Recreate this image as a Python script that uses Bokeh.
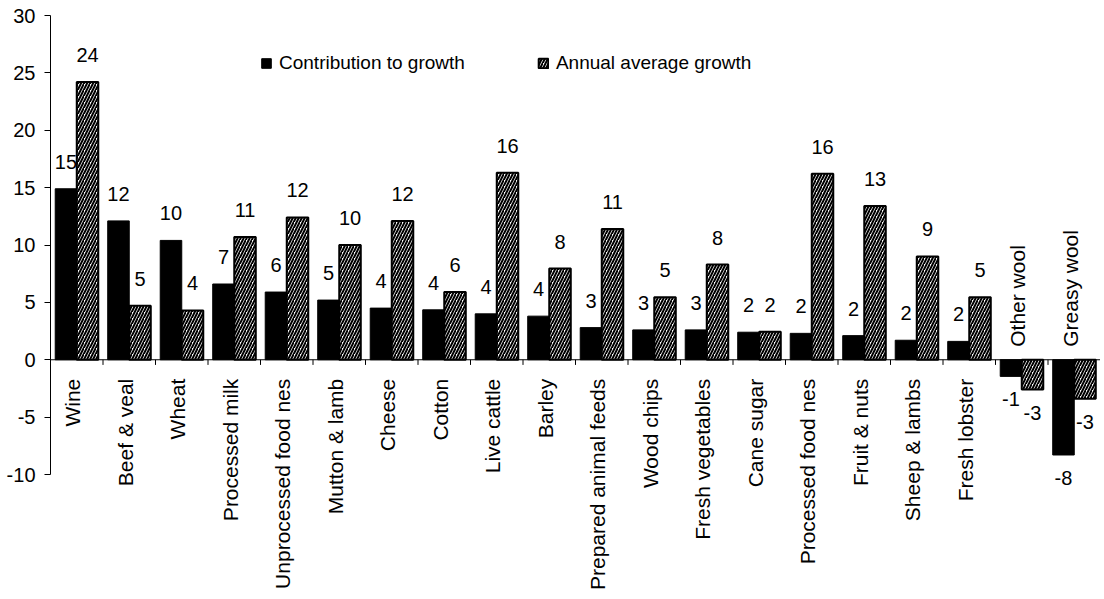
import math
from bokeh.plotting import figure
from bokeh.models import ColumnDataSource, Range1d, FactorRange, FixedTicker, Legend, LegendItem, Span
from bokeh.transform import dodge
from bokeh.core.properties import value
from bokeh.embed import file_html
from bokeh.resources import INLINE

categories = ["Wine", "Beef & veal", "Wheat", "Processed milk", "Unprocessed food nes",
              "Mutton & lamb", "Cheese", "Cotton", "Live cattle", "Barley",
              "Prepared animal feeds", "Wood chips", "Fresh vegetables", "Cane sugar",
              "Processed food nes", "Fruit & nuts", "Sheep & lambs", "Fresh lobster",
              "Other wool", "Greasy wool"]
contribution = [14.9, 12.1, 10.4, 6.6, 5.9, 5.2, 4.5, 4.35, 4.0, 3.8,
                2.8, 2.6, 2.6, 2.4, 2.3, 2.1, 1.7, 1.6, -1.45, -8.3]
annual_growth = [24.2, 4.7, 4.3, 10.7, 12.4, 10.0, 12.1, 5.9, 16.3, 7.95,
                 11.4, 5.45, 8.3, 2.45, 16.2, 13.4, 9.0, 5.45, -2.6, -3.4]
series_names = ["Contribution to growth", "Annual average growth"]
y_ticks = [-10, -5, 0, 5, 10, 15, 20, 25, 30]

FONT = "Liberation Sans"
PX_PER_UNIT = 11.475
W, H = 1100, 594
TOP = 8
LEFT = 50
y_end = 30 + 7 / PX_PER_UNIT
y_start = y_end - (H - TOP) / PX_PER_UNIT

p = figure(x_range=FactorRange(*categories), y_range=Range1d(y_start, y_end),
           width=W, height=H, output_backend="svg", toolbar_location=None,
           x_axis_location=None, min_border_left=LEFT, min_border_right=0,
           min_border_top=TOP, min_border_bottom=0)
p.outline_line_color = None
p.grid.visible = False
p.background_fill_color = "white"

yax = p.yaxis[0]
yax.ticker = FixedTicker(ticks=y_ticks)
yax.bounds = (-10, 30)
yax.axis_line_color = "black"
yax.major_tick_line_color = "black"
yax.major_tick_out = 6
yax.major_tick_in = 0
yax.minor_tick_line_color = None
yax.major_label_text_font = FONT
yax.major_label_text_font_size = "20px"
yax.major_label_text_color = "black"
yax.major_label_standoff = 9
yax.major_label_overrides = {t: str(t) for t in y_ticks}

src = ColumnDataSource(dict(cats=categories, contrib=contribution, annual=annual_growth))

OFF = 0.205
BW = 0.41
r1 = p.vbar(x=dodge("cats", -OFF, range=p.x_range), top="contrib", bottom=0, width=BW,
            source=src, fill_color="black", line_color="black", line_width=1)
r2 = p.vbar(x=dodge("cats", OFF, range=p.x_range), top="annual", bottom=0, width=BW,
            source=src, fill_color="white", line_color="black", line_width=2,
            hatch_pattern="/", hatch_color="black", hatch_scale=6, hatch_weight=2)

p.add_layout(Span(location=0, dimension="width", line_color="black", line_width=1))
p.segment(x0=dodge("cats", -0.5, range=p.x_range), y0=0,
          x1=dodge("cats", -0.5, range=p.x_range), y1=-0.45,
          source=src, line_color="black", line_width=1)

# data labels
def label_sources(vals):
    pos = dict(cats=[], v=[], t=[])
    neg = dict(cats=[], v=[], t=[])
    for c, v in zip(categories, vals):
        d = pos if v >= 0 else neg
        d["cats"].append(c); d["v"].append(v); d["t"].append(f"{v:.0f}")
    return ColumnDataSource(pos), ColumnDataSource(neg)

for vals, off in ((contribution, -OFF), (annual_growth, OFF)):
    ps, ns = label_sources(vals)
    p.text(x=dodge("cats", off, range=p.x_range), y="v", text="t", source=ps,
           text_align="center", text_baseline="alphabetic", y_offset=-27,
           text_font=value(FONT), text_font_size="20px", text_color="black")
    p.text(x=dodge("cats", off, range=p.x_range), y="v", text="t", source=ns,
           text_align="center", text_baseline="top", y_offset=16,
           text_font=value(FONT), text_font_size="20px", text_color="black")

# category labels
pc = ColumnDataSource(dict(cats=[c for c, v in zip(categories, contribution) if v >= 0]))
nc = ColumnDataSource(dict(cats=[c for c, v in zip(categories, contribution) if v < 0]))
p.text(x="cats", y=0, text="cats", source=pc, angle=math.pi / 2,
       text_align="right", text_baseline="middle", y_offset=19, x_offset=-4,
       text_font=value(FONT), text_font_size="21px", text_color="black")
p.text(x="cats", y=0, text="cats", source=nc, angle=math.pi / 2,
       text_align="left", text_baseline="middle", y_offset=-13, x_offset=-4,
       text_font=value(FONT), text_font_size="21px", text_color="black")

legend = Legend(items=[LegendItem(label=series_names[0], renderers=[r1]),
                       LegendItem(label=series_names[1], renderers=[r2])],
                orientation="horizontal", location=(210, 520),
                glyph_width=12, glyph_height=12, label_standoff=7, spacing=72,
                padding=0, margin=0, border_line_color=None, background_fill_alpha=0,
                label_text_font=FONT, label_text_font_size="19px", label_text_color="black")
p.add_layout(legend)

open("out.html", "w").write(file_html(p, INLINE))
